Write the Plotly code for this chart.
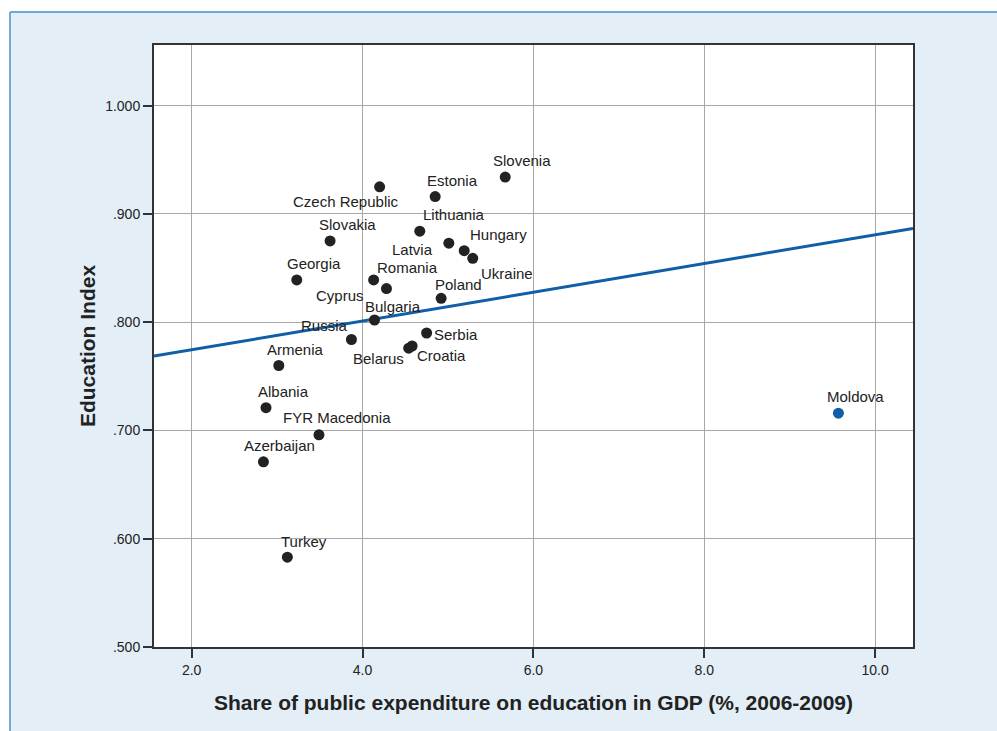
import plotly.graph_objects as go

countries = ["Slovenia", "Czech Republic", "Estonia", "Lithuania", "Slovakia", "Latvia",
             "Hungary", "Ukraine", "Georgia", "Cyprus", "Romania", "Poland", "Bulgaria",
             "Serbia", "Russia", "Belarus", "Croatia", "Armenia", "Albania",
             "FYR Macedonia", "Azerbaijan", "Turkey"]
expenditure = [5.67, 4.20, 4.85, 4.67, 3.62, 5.01, 5.19, 5.29, 3.23, 4.13, 4.28, 4.92,
               4.14, 4.75, 3.87, 4.54, 4.58, 3.02, 2.87, 3.49, 2.84, 3.12]
education_index = [0.934, 0.925, 0.916, 0.884, 0.875, 0.873, 0.866, 0.859, 0.839, 0.839,
                   0.831, 0.822, 0.802, 0.790, 0.784, 0.776, 0.778, 0.760, 0.721, 0.696,
                   0.671, 0.583]
# label offsets in pixels (style)
label_dx = [17, -34, 17, 34, 17, -36, 34, 34, 17, -34, 21, 17, 18, 29, -27, -30, 29, 17, 17, 18, 16, 17]
label_dy = [-17, 15, -16, -17, -16, 6, -16, 15, -16, 16, -21, -14, -14, 1, -14, 10, 9, -16, -16, -17, -16, -16]

moldova_name = ["Moldova"]
moldova_x = [9.57]
moldova_y = [0.716]

fit_x = [1.559, 10.443]
fit_y = [0.7687, 0.8866]

x_tickvals = [2.0, 4.0, 6.0, 8.0, 10.0]
x_ticktext = ["2.0", "4.0", "6.0", "8.0", "10.0"]
y_tickvals = [0.5, 0.6, 0.7, 0.8, 0.9, 1.0]
y_ticktext = [".500", ".600", ".700", ".800", ".900", "1.000"]

W, H = 997, 731
L, R, T, B = 154, 84, 45, 84
FONT = "Liberation Sans, Arial, sans-serif"

fig = go.Figure()
fig.add_trace(go.Scatter(x=fit_x, y=fit_y, mode="lines",
                         line=dict(color="#0f5ea8", width=3), hoverinfo="skip"))
fig.add_trace(go.Scatter(x=expenditure, y=education_index, mode="markers",
                         marker=dict(color="#222222", size=11), text=countries))
fig.add_trace(go.Scatter(x=moldova_x, y=moldova_y, mode="markers",
                         marker=dict(color="#0f5ea8", size=11), text=moldova_name))

annotations = []
for name, x, y, dx, dy in zip(countries + moldova_name, expenditure + moldova_x,
                              education_index + moldova_y, label_dx + [17], label_dy + [-17]):
    annotations.append(dict(x=x, y=y, xref="x", yref="y", text=name, showarrow=False,
                            xshift=dx, yshift=-dy, xanchor="center", yanchor="middle",
                            font=dict(family=FONT, size=15, color="#222222")))

pw = W - L - R
ph = H - T - B
def px_x(p):
    return (p - L) / pw
def px_y(p):
    return (H - B - p) / ph

shapes = [
    dict(type="rect", xref="paper", yref="paper", x0=px_x(0), x1=px_x(W), y0=px_y(0), y1=px_y(12),
         fillcolor="white", line=dict(width=0), layer="below"),
    dict(type="rect", xref="paper", yref="paper", x0=px_x(0), x1=px_x(10), y0=px_y(0), y1=px_y(H),
         fillcolor="white", line=dict(width=0), layer="below"),
    dict(type="line", xref="paper", yref="paper", x0=px_x(10), x1=px_x(W), y0=px_y(12), y1=px_y(12),
         line=dict(color="#72a9d4", width=2)),
    dict(type="line", xref="paper", yref="paper", x0=px_x(10), x1=px_x(10), y0=px_y(12), y1=px_y(H),
         line=dict(color="#72a9d4", width=2)),
]

fig.update_layout(
    width=W, height=H,
    margin=dict(l=L, r=R, t=T, b=B),
    paper_bgcolor="#e3eef6",
    plot_bgcolor="white",
    showlegend=False,
    annotations=annotations,
    shapes=shapes,
    font=dict(family=FONT, color="#222222"),
    xaxis=dict(range=[1.559, 10.443], tickvals=x_tickvals, ticktext=x_ticktext,
               showgrid=True, gridcolor="#a8a8a8", gridwidth=1.3, zeroline=False,
               showline=True, linecolor="#333333", linewidth=2, mirror=True,
               ticks="outside", ticklen=9, tickwidth=2, tickcolor="#333333",
               tickfont=dict(family=FONT, size=14, color="#222222"),
               title=dict(text="<b>Share of public expenditure on education in GDP (%, 2006-2009)</b>",
                          font=dict(family=FONT, size=21, color="#222222"), standoff=19)),
    yaxis=dict(range=[0.5, 1.056], tickvals=y_tickvals, ticktext=y_ticktext,
               showgrid=True, gridcolor="#a8a8a8", gridwidth=1.3, zeroline=False,
               showline=True, linecolor="#333333", linewidth=2, mirror=True,
               ticks="outside", ticklen=9, tickwidth=2, tickcolor="#333333",
               tickfont=dict(family=FONT, size=14, color="#222222"),
               title=dict(text="<b>Education Index</b>",
                          font=dict(family=FONT, size=21, color="#222222"), standoff=4)),
)

fig.write_html("out.html", config={"displayModeBar": False},
               post_script="document.body.style.margin='0';document.body.style.overflow='hidden';")
